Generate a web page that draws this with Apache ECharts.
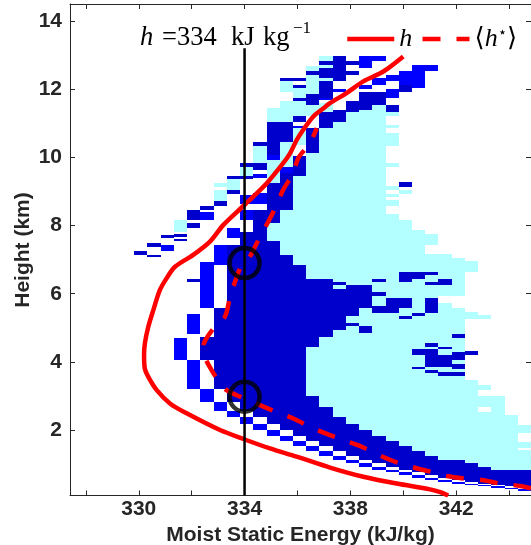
<!DOCTYPE html>
<html>
<head>
<meta charset="utf-8">
<title>Moist static energy profile</title>
<script src="https://cdn.jsdelivr.net/npm/echarts@6.0.0/dist/echarts.min.js"></script>
<style>
  html, body { margin: 0; padding: 0; background: #fff; }
  #chart { width: 531px; height: 545px; }
</style>
</head>
<body>
<div id="chart"></div>
<script>
// bin centres of moist static energy (kJ/kg), each bin 0.5 wide
const mseBins = [327.58, 328.08, 328.58, 329.08, 329.58, 330.08, 330.58, 331.08, 331.58, 332.08,
  332.58, 333.08, 333.58, 334.08, 334.58, 335.08, 335.58, 336.08, 336.58, 337.08,
  337.58, 338.08, 338.58, 339.08, 339.58, 340.08, 340.58, 341.08, 341.58, 342.08,
  342.58, 343.08, 343.58, 344.08, 344.58];
const binWidth = 0.5;

// histogram cells: [first bin, last bin, bottom km, top km]
const cyanCells = [
  [19, 19, 12.83, 12.96], [19, 19, 12.62, 12.72], [19, 19, 12.23, 12.33], [19, 19, 11.34, 11.60],
  [18, 18, 12.52, 12.69], [18, 18, 11.86, 12.42], [18, 18, 11.20, 11.54], [18, 18, 6.43, 10.13],
  [17, 17, 11.74, 12.03], [17, 17, 11.22, 11.64], [17, 17, 10.36, 10.86], [17, 17, 6.84, 9.44],
  [16, 16, 11.93, 12.23], [16, 16, 11.05, 11.64], [16, 16, 9.73, 10.46], [16, 16, 7.14, 8.46],
  [15, 15, 11.05, 11.44], [15, 15, 9.24, 9.93], [15, 15, 7.56, 8.07],
  [14, 14, 9.83, 10.34], [13, 13, 9.44, 9.73], [12, 12, 9.05, 9.36],
  [11, 11, 9.14, 9.24], [11, 11, 8.73, 9.05], [8, 8, 7.82, 8.17],
  [24, 24, 11.22, 11.34], [24, 24, 10.85, 10.96], [24, 24, 10.34, 10.72], [24, 24, 9.73, 9.83],
  [24, 24, 9.05, 9.16], [24, 24, 8.84, 8.93], [24, 24, 8.56, 8.76], [25, 25, 8.93, 9.05],
  [19, 23, 8.46, 10.86], [20, 23, 10.86, 11.05], [21, 23, 11.05, 11.34], [22, 23, 11.34, 11.40],
  [23, 23, 11.40, 11.54],
  [19, 23, 8.34, 8.46], [19, 24, 8.17, 8.34], [19, 25, 7.86, 8.17], [19, 26, 7.75, 7.86],
  [19, 27, 7.43, 7.75], [19, 26, 7.17, 7.43], [19, 28, 7.04, 7.17], [19, 29, 6.97, 7.04],
  [19, 30, 6.65, 6.97], [19, 29, 5.93, 6.65], [19, 27, 5.74, 5.93], [19, 28, 5.57, 5.74],
  [19, 29, 5.47, 5.57], [19, 30, 5.38, 5.47], [19, 31, 5.26, 5.38],
  [18, 29, 3.47, 5.26], [18, 30, 3.32, 3.47], [18, 31, 3.17, 3.32], [18, 30, 3.00, 3.17],
  [19, 32, 2.69, 3.00], [20, 30, 2.54, 2.69], [32, 32, 2.54, 2.69], [20, 32, 2.44, 2.54],
  [20, 33, 2.38, 2.44], [21, 33, 2.18, 2.38], [22, 33, 2.15, 2.18], [22, 34, 2.00, 2.15],
  [23, 34, 1.90, 2.00], [23, 33, 1.83, 1.90], [24, 33, 1.69, 1.83], [25, 33, 1.66, 1.69],
  [25, 34, 1.54, 1.66], [26, 34, 1.48, 1.54], [26, 33, 1.41, 1.48], [26, 34, 1.39, 1.41],
  [27, 34, 1.25, 1.39], [28, 34, 1.13, 1.25], [30, 34, 1.02, 1.13], [31, 34, 0.93, 1.02],
  [32, 34, 0.84, 0.93]
];

const blueCells = [
  [19, 19, 11.67, 11.74], [20, 20, 11.93, 12.01], [22, 22, 12.62, 12.96], [22, 22, 12.01, 12.13],
  [23, 23, 12.83, 12.96], [23, 23, 12.13, 12.33], [24, 24, 12.23, 12.42], [24, 24, 11.74, 12.01],
  [25, 25, 12.13, 12.52], [26, 26, 12.03, 12.72], [27, 27, 12.52, 12.72],
  [17, 17, 10.86, 10.93], [16, 16, 9.54, 9.73], [15, 15, 9.93, 10.07], [14, 14, 9.40, 9.52],
  [14, 14, 8.63, 8.95], [13, 13, 8.63, 8.90], [13, 13, 8.17, 8.46], [10, 10, 8.17, 8.40],
  [12, 12, 7.63, 7.92], [11, 11, 6.84, 7.43], [10, 10, 5.57, 6.94], [9, 9, 4.82, 5.40],
  [8, 8, 4.05, 4.69], [7, 7, 7.26, 7.43],
  [9, 9, 3.19, 4.05], [10, 10, 2.82, 3.19], [11, 11, 2.56, 2.82], [12, 12, 2.38, 2.56],
  [13, 13, 2.18, 2.38], [14, 14, 2.00, 2.18], [15, 15, 1.83, 2.00], [16, 16, 1.69, 1.83],
  [17, 17, 1.54, 1.69], [18, 18, 1.39, 1.54], [19, 19, 1.25, 1.39], [20, 20, 1.13, 1.25],
  [21, 21, 1.02, 1.13], [22, 22, 0.93, 1.02], [23, 23, 0.84, 0.93], [24, 24, 0.76, 0.84],
  [25, 25, 0.68, 0.76], [26, 26, 0.60, 0.68], [27, 27, 0.54, 0.60], [28, 28, 0.48, 0.54],
  [29, 29, 0.43, 0.48], [30, 30, 0.39, 0.43], [31, 31, 0.35, 0.39], [32, 32, 0.30, 0.35],
  [33, 33, 0.26, 0.30], [34, 34, 0.22, 0.26]
];

const darkCells = [
  [19, 19, 12.72, 12.83], [19, 19, 12.33, 12.62], [19, 19, 11.74, 12.23], [19, 19, 10.86, 11.34],
  [20, 20, 12.23, 12.96], [20, 20, 11.05, 11.40], [21, 21, 12.72, 12.83], [21, 21, 12.42, 12.52],
  [21, 21, 11.34, 11.64], [22, 22, 11.40, 11.93], [23, 23, 11.54, 11.93], [24, 24, 11.34, 11.54],
  [25, 25, 11.93, 12.13], [25, 25, 9.14, 9.27],
  [18, 18, 12.42, 12.52], [18, 18, 11.54, 11.86], [18, 18, 10.13, 10.86],
  [17, 17, 12.23, 12.33], [17, 17, 12.03, 12.13], [17, 17, 11.64, 11.74], [17, 17, 11.05, 11.22],
  [17, 17, 9.44, 10.03], [16, 16, 12.23, 12.33], [16, 16, 10.46, 11.05], [16, 16, 8.46, 9.54],
  [15, 15, 10.07, 11.05], [15, 15, 8.07, 9.24], [14, 14, 10.34, 10.46], [14, 14, 9.63, 9.83],
  [13, 13, 9.73, 9.83], [13, 13, 9.36, 9.44], [12, 12, 9.36, 9.44], [12, 12, 8.93, 9.05],
  [11, 11, 8.56, 8.73], [10, 10, 8.46, 8.56], [9, 9, 8.17, 8.46], [9, 9, 7.92, 8.07],
  [9, 9, 6.35, 6.43], [8, 8, 7.66, 7.75], [8, 8, 7.56, 7.62], [7, 7, 7.63, 7.72],
  [6, 6, 7.36, 7.48], [6, 6, 7.07, 7.14], [5, 5, 7.14, 7.26],
  [10, 10, 4.05, 4.74], [11, 11, 3.19, 5.57], [12, 12, 2.82, 7.43], [13, 13, 2.56, 7.82],
  [14, 14, 2.38, 8.46], [15, 15, 2.18, 7.56], [16, 16, 2.00, 7.14], [17, 17, 1.83, 6.84],
  [18, 18, 4.45, 6.43], [18, 18, 1.69, 3.00], [19, 19, 4.74, 6.43], [19, 19, 1.54, 2.69],
  [20, 20, 6.26, 6.35], [20, 20, 4.94, 6.14], [20, 20, 1.39, 2.38],
  [21, 21, 5.35, 6.26], [21, 21, 5.05, 5.13], [21, 21, 1.25, 2.18],
  [22, 22, 5.57, 6.26], [22, 22, 4.86, 5.05], [22, 22, 1.13, 2.00],
  [23, 23, 6.35, 6.43], [23, 23, 5.93, 6.06], [23, 23, 5.44, 5.64], [23, 23, 1.02, 1.83],
  [24, 24, 5.44, 5.87], [24, 24, 0.93, 1.69],
  [25, 25, 6.35, 6.65], [25, 25, 5.57, 5.87], [25, 25, 5.27, 5.35], [25, 25, 0.84, 1.54],
  [26, 26, 6.43, 6.65], [26, 26, 5.35, 5.44], [26, 26, 4.19, 4.39], [26, 26, 3.78, 3.85],
  [26, 26, 0.76, 1.39],
  [27, 27, 6.55, 6.65], [27, 27, 6.26, 6.35], [27, 27, 5.44, 5.87], [27, 27, 4.45, 4.55],
  [27, 27, 3.85, 4.39], [27, 27, 3.66, 3.76], [27, 27, 0.68, 1.25],
  [28, 28, 6.26, 6.43], [28, 28, 4.39, 4.45], [28, 28, 3.85, 4.19], [28, 28, 3.60, 3.70],
  [28, 28, 0.60, 1.13],
  [29, 29, 4.69, 4.82], [29, 29, 4.05, 4.29], [29, 29, 3.78, 3.94], [29, 29, 3.60, 3.70],
  [29, 29, 0.54, 1.13],
  [30, 30, 4.19, 4.32], [30, 30, 0.48, 1.02], [31, 31, 0.43, 0.93], [32, 32, 0.39, 0.84],
  [33, 33, 0.35, 0.84], [34, 34, 0.30, 0.84]
];

// profile of h
const hMse = [341.70, 341.40, 341.01, 339.75, 338.49, 337.23, 335.97, 334.96, 333.98, 333.07,
  331.81, 331.18, 330.68, 330.36, 330.23, 330.20, 330.23, 330.36, 330.55, 330.80,
  331.05, 331.37, 332.06, 332.69, 333.20, 333.85, 334.33, 334.84, 335.46, 335.72,
  335.97, 336.22, 336.60, 336.98, 337.23, 337.84, 338.49, 339.25, 340.00];
const hHeight = [0.08, 0.18, 0.26, 0.43, 0.63, 0.90, 1.22, 1.46, 1.73, 2.00,
  2.49, 2.78, 3.17, 3.56, 3.80, 4.20, 4.54, 5.03, 5.52, 6.11,
  6.45, 6.79, 7.14, 7.53, 8.02, 8.50, 8.85, 9.24, 9.83, 10.12,
  10.51, 10.81, 11.20, 11.44, 11.59, 11.88, 12.23, 12.52, 12.96];

// profile of <h*>
const hStarMse = [344.83, 344.42, 343.66, 343.03, 342.27, 341.64, 341.01, 340.32, 339.69, 339.06,
  338.43, 337.80, 337.23, 336.60, 335.84, 335.34, 334.58, 333.98, 333.32, 332.95,
  332.65, 332.50, 332.44, 332.82, 333.26, 333.45, 333.64, 333.89, 334.20, 334.58,
  334.90, 335.21, 335.46, 335.84, 336.03, 336.47, 336.73];
const hStarHeight = [0.29, 0.36, 0.43, 0.53, 0.58, 0.65, 0.78, 0.92, 1.07, 1.27,
  1.51, 1.69, 1.85, 2.05, 2.34, 2.49, 2.73, 2.93, 3.17, 3.52,
  3.90, 4.15, 4.45, 4.98, 5.33, 5.91, 6.35, 6.84, 7.09, 7.67,
  8.12, 8.60, 9.05, 9.54, 9.98, 10.42, 10.86];

const refMse = 334;
const refLineTop = 13.2;
const circleHeights = [6.9, 2.98];

const xTicks = [328, 330, 332, 334, 336, 338, 340, 342, 344];
const xLabels = [330, 334, 338, 342];
const yTicks = [2, 4, 6, 8, 10, 12, 14];

const axisColor = '#262626';
const sansBold = { color: axisColor, fontSize: 21, fontWeight: 'bold', fontFamily: 'Liberation Sans, Arial, sans-serif' };
const serif = 'Liberation Serif, DejaVu Serif, serif';

function drawCell(params, api) {
  const p0 = api.coord([api.value(0), api.value(3)]);
  const p1 = api.coord([api.value(1), api.value(2)]);
  const x0 = Math.round(p0[0]), x1 = Math.round(p1[0]);
  const y0 = Math.round(p0[1]), y1 = Math.round(p1[1]);
  const cs = params.coordSys;
  const shape = echarts.graphic.clipRectByRect(
    { x: x0, y: y0, width: x1 - x0, height: Math.max(1, y1 - y0) },
    { x: cs.x, y: cs.y, width: cs.width, height: cs.height });
  return shape && { type: 'rect', shape: shape, style: { fill: api.visual('color') } };
}

function cellSeries(name, cells, color) {
  return {
    type: 'custom', name: name, renderItem: drawCell, silent: true, z: 1,
    itemStyle: { color: color },
    encode: { x: [0, 1], y: [2, 3] },
    data: cells.map(c => [mseBins[c[0]] - binWidth / 2, mseBins[c[1]] + binWidth / 2, c[2], c[3]])
  };
}

function boxAxis(extra) {
  return Object.assign({
    type: 'value',
    axisLine: { show: true, onZero: false, lineStyle: { color: axisColor, width: 1 } },
    splitLine: { show: false }
  }, extra);
}

const xRange = { min: 327.4, max: 344.83 };
const yRange = { min: 0.08, max: 14.5 };
const xTick = { inside: true, length: 5, customValues: xTicks, lineStyle: { color: axisColor } };
const yTick = { inside: true, length: 5, customValues: yTicks, lineStyle: { color: axisColor } };

const chart = echarts.init(document.getElementById('chart'));
chart.setOption({
  animation: false,
  grid: { left: 70, right: 0, top: 4, bottom: 49.5, outerBoundsMode: 'none', containLabel: false },
  xAxis: [
    boxAxis(Object.assign({
      position: 'bottom', axisTick: xTick,
      axisLabel: Object.assign({ customValues: xLabels, margin: 3 }, sansBold),
      name: 'Moist Static Energy (kJ/kg)', nameLocation: 'middle', nameGap: 17,
      nameTextStyle: sansBold
    }, xRange)),
    boxAxis(Object.assign({ position: 'top', axisTick: xTick, axisLabel: { show: false } }, xRange))
  ],
  yAxis: [
    boxAxis(Object.assign({
      position: 'left', axisTick: yTick,
      axisLabel: Object.assign({ customValues: yTicks, margin: 8 }, sansBold)
    }, yRange)),
    boxAxis(Object.assign({ position: 'right', axisTick: yTick, axisLabel: { show: false } }, yRange))
  ],
  legend: {
    data: ['h', '⟨h⋆⟩'], left: 345, top: 26, padding: 0,
    itemWidth: 47, itemHeight: 14, itemGap: 8,
    selectedMode: false,
    itemStyle: { color: 'rgba(0,0,0,0)', borderWidth: 0 },
    lineStyle: { width: 4.5 },
    formatter: name => name === 'h' ? '{it|h}' : '{n|⟨}{it|h}{sup|⋆}{n|⟩}',
    textStyle: {
      color: '#000',
      rich: {
        it: { fontFamily: serif, fontStyle: 'italic', fontSize: 26, color: '#000' },
        n: { fontFamily: serif, fontSize: 26, color: '#000' },
        sup: { fontFamily: 'DejaVu Sans', fontSize: 15, color: '#000', verticalAlign: 'top' }
      }
    }
  },
  graphic: [
    { type: 'text', x: 23, y: 250, rotation: Math.PI / 2,
      style: { text: 'Height (km)', font: 'bold 21px Liberation Sans, Arial, sans-serif', fill: axisColor,
        align: 'center', textAlign: 'center', verticalAlign: 'middle', textVerticalAlign: 'middle' } },
    { type: 'text', x: 140, y: 38.5, style: { text: 'h', font: 'italic 26.5px ' + serif, fill: '#000', verticalAlign: 'middle', textVerticalAlign: 'middle' } },
    { type: 'text', x: 162, y: 38.5, style: { text: '=334', font: '26.5px ' + serif, fill: '#000', verticalAlign: 'middle', textVerticalAlign: 'middle' } },
    { type: 'text', x: 231, y: 38.5, style: { text: 'kJ', font: '26.5px ' + serif, fill: '#000', verticalAlign: 'middle', textVerticalAlign: 'middle' } },
    { type: 'text', x: 263, y: 38.5, style: { text: 'kg', font: '26.5px ' + serif, fill: '#000', verticalAlign: 'middle', textVerticalAlign: 'middle' } },
    { type: 'text', x: 293, y: 29, style: { text: '\u22121', font: '17px ' + serif, fill: '#000', verticalAlign: 'middle', textVerticalAlign: 'middle' } }
  ],
  series: [
    cellSeries('cyan', cyanCells, '#b3ffff'),
    cellSeries('blue', blueCells, '#0000ff'),
    cellSeries('dark', darkCells, '#0000cd'),
    {
      type: 'line', name: 'h', z: 3, symbol: 'none', smooth: 0.3,
      data: hMse.map((m, i) => [m, hHeight[i]]),
      itemStyle: { color: '#ff0000' },
      lineStyle: { color: '#ff0000', width: 4.5 }
    },
    {
      type: 'line', name: '⟨h⋆⟩', z: 3, symbol: 'none', smooth: 0.3,
      data: hStarMse.map((m, i) => [m, hStarHeight[i]]),
      itemStyle: { color: '#ff0000' },
      lineStyle: { color: '#ff0000', width: 4.5, type: [18, 16] }
    },
    {
      type: 'line', name: 'ref', z: 4, symbol: 'none', silent: true,
      data: [[refMse, yRange.min], [refMse, refLineTop]],
      lineStyle: { color: '#000', width: 2.5 }
    },
    {
      type: 'scatter', name: 'marks', z: 5, symbol: 'circle', symbolSize: 30, silent: true,
      data: circleHeights.map(z => [refMse, z]),
      itemStyle: { color: 'rgba(0,0,0,0)', borderColor: '#000', borderWidth: 4.5 }
    }
  ]
});
</script>
</body>
</html>
